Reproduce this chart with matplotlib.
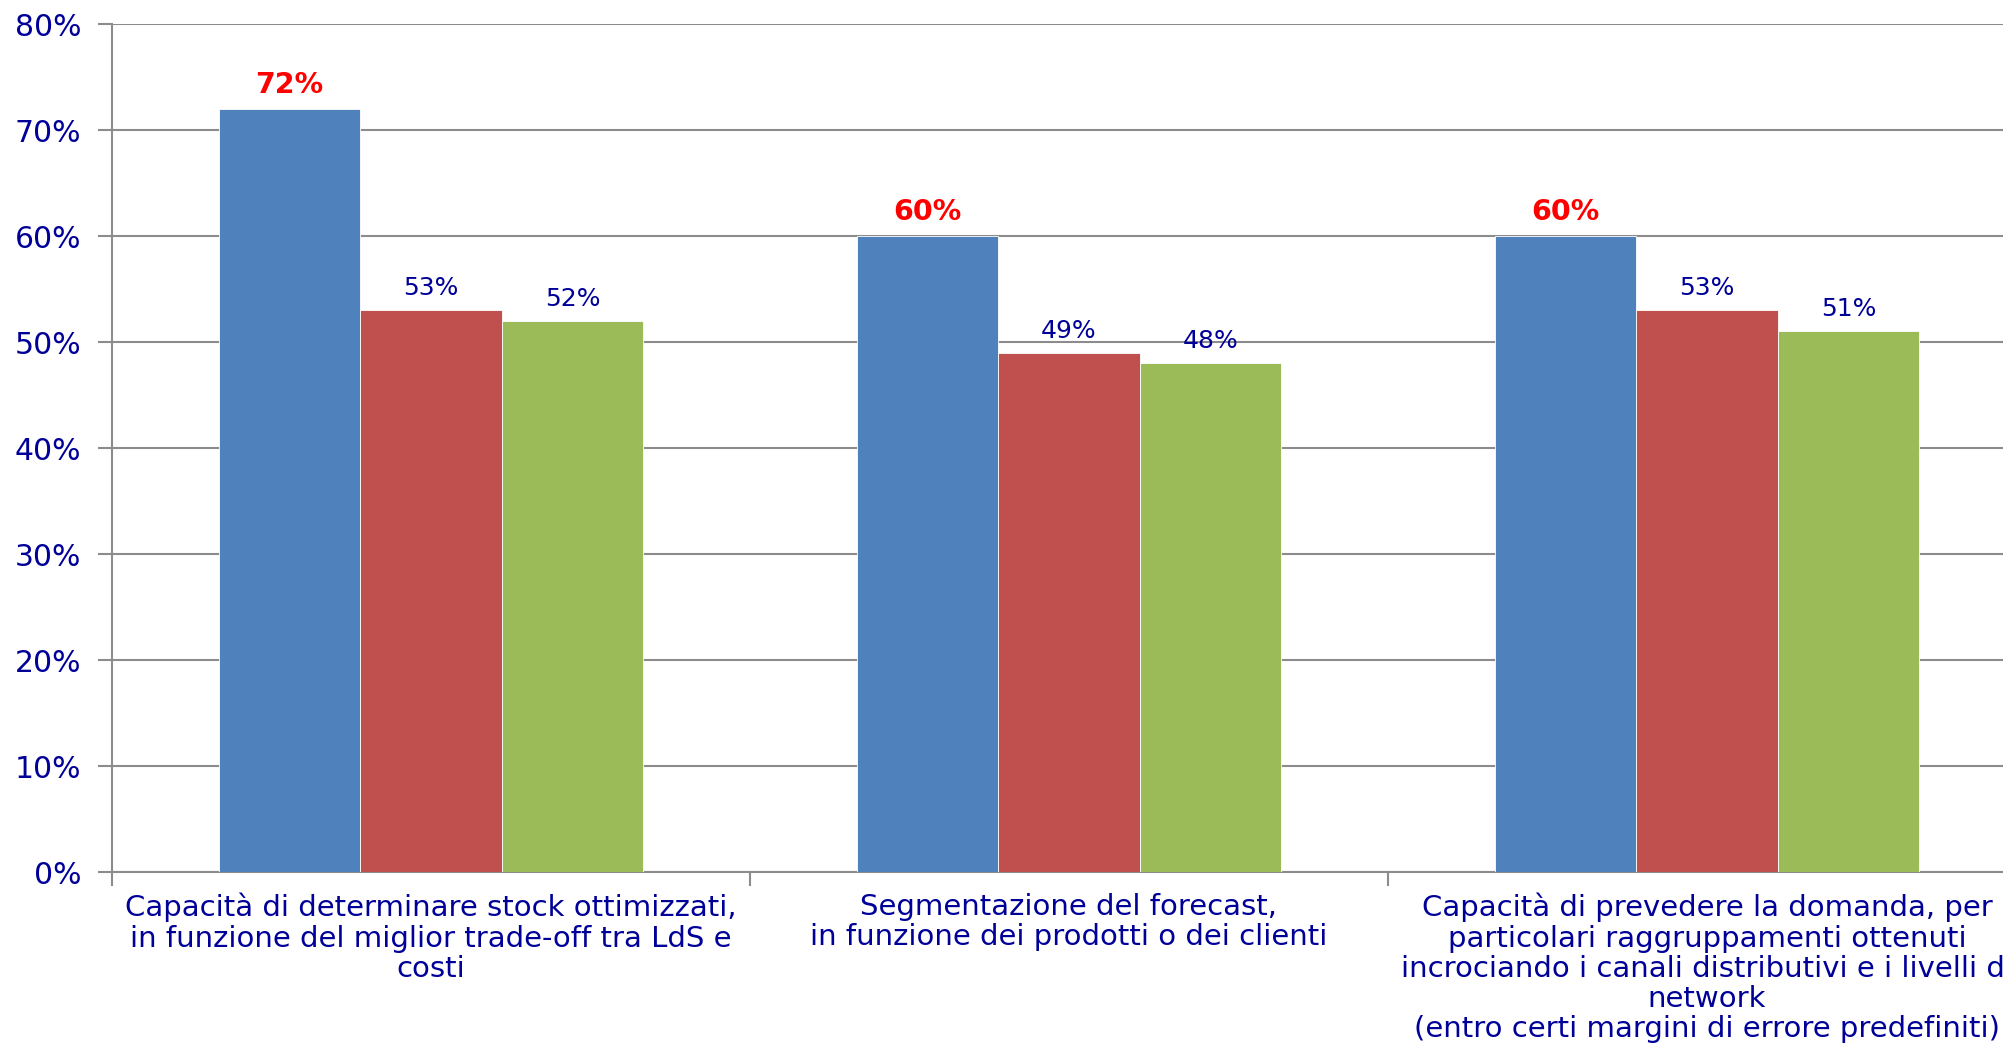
import numpy as np
import matplotlib
matplotlib.use("Agg")
import matplotlib.pyplot as plt

plt.rcParams['font.family'] = ['DejaVu Sans']

# categorie e valori (percentuali)
categorie = [
    "Capacità di determinare stock ottimizzati,\nin funzione del miglior trade-off tra LdS e\ncosti",
    "Segmentazione del forecast,\nin funzione dei prodotti o dei clienti",
    "Capacità di prevedere la domanda, per\nparticolari raggruppamenti ottenuti\nincrociando i canali distributivi e i livelli di\nnetwork\n(entro certi margini di errore predefiniti)",
]
serie_1 = [0.72, 0.60, 0.60]
serie_2 = [0.53, 0.49, 0.53]
serie_3 = [0.52, 0.48, 0.51]
y_ticks = [0, 0.1, 0.2, 0.3, 0.4, 0.5, 0.6, 0.7, 0.8]

colori = ['#4F81BD', '#C0504D', '#9BBB59']
blu_testo = '#000099'
grigio = '#8C8C8C'

fig = plt.figure(figsize=(20.03, 10.52), dpi=100)
ax = fig.add_axes([112/2003, 180/1052, 1 - 112/2003, (1028-180)/1052])

x = np.arange(len(categorie))
w = 0.222
for k, (vals, col) in enumerate(zip([serie_1, serie_2, serie_3], colori)):
    pos = x + (k - 1) * w
    ax.bar(pos, vals, width=w, color=col, edgecolor='#FFFFFF', linewidth=0.6, zorder=3)
    for p, v in zip(pos, vals):
        if k == 0:
            ax.annotate(f"{v*100:.0f}%", (p, v), xytext=(0, 10), textcoords='offset pixels',
                        ha='center', va='bottom', color='#FF0000', fontsize=20.5, fontweight='bold')
        else:
            ax.annotate(f"{v*100:.0f}%", (p, v), xytext=(0, 10), textcoords='offset pixels',
                        ha='center', va='bottom', color=blu_testo, fontsize=18)

ax.set_xlim(-0.5, -0.5 + (2003 - 112) / 638)
ax.set_ylim(0, 0.8)
ax.set_yticks(y_ticks)
ax.set_yticklabels([f"{t*100:.0f}%" for t in y_ticks])
ax.yaxis.grid(True, color=grigio, linewidth=1.5, zorder=0)
ax.set_axisbelow(True)

# tick sui confini delle categorie, etichette centrate
ax.set_xticks([-0.5, 0.5, 1.5])
ax.set_xticklabels([])
ax.set_xticks(x, minor=True)
ax.set_xticklabels(categorie, minor=True, fontsize=21, color=blu_testo, linespacing=1.1)
ax.tick_params(axis='x', which='minor', length=0, pad=15)
ax.tick_params(axis='x', which='major', length=10, color=grigio, width=1.5)
ax.tick_params(axis='y', length=10, color=grigio, width=1.5, labelsize=21.5,
               labelcolor=blu_testo, pad=12)

for s in ['top', 'right']:
    ax.spines[s].set_visible(False)
for s in ['left', 'bottom']:
    ax.spines[s].set_color(grigio)
    ax.spines[s].set_linewidth(1.5)

fig.savefig("out.png", dpi=100, facecolor='white')
